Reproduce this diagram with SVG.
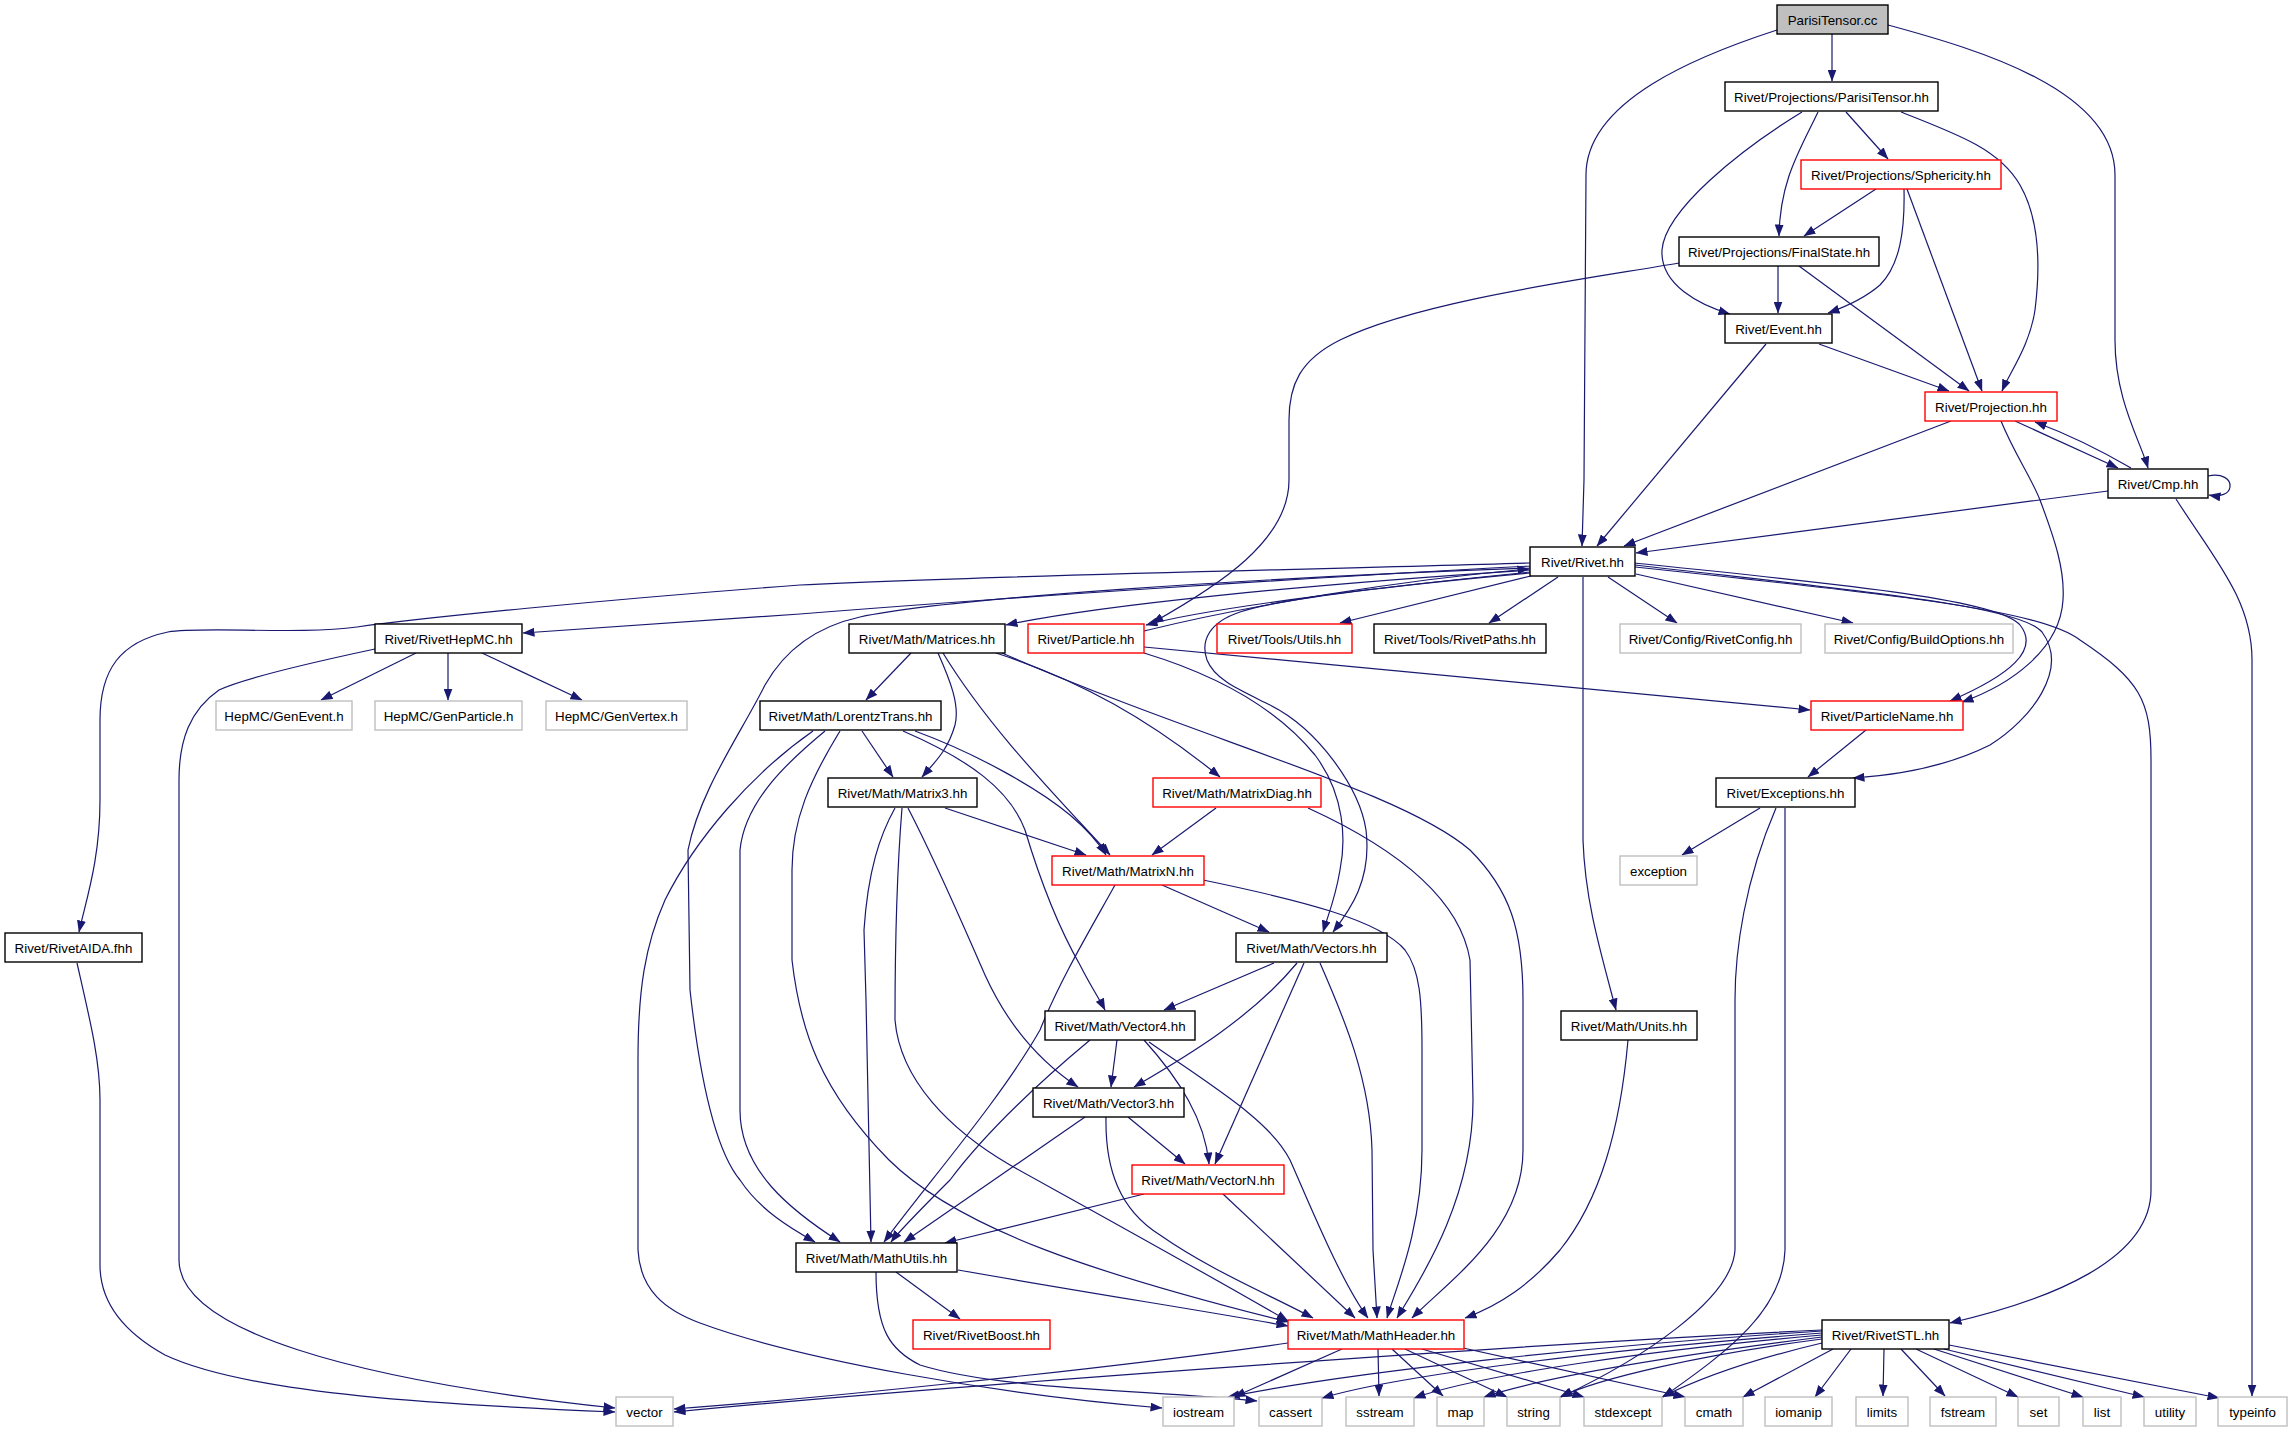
<svg xmlns="http://www.w3.org/2000/svg" width="2291" height="1432" viewBox="0 0 2291 1432">
<style>
.n rect{fill:#fff;stroke:#000;stroke-width:1.4}
.n.r rect{stroke:#ff0000}
.n.g rect{stroke:#bfbfbf}
.n.s rect{fill:#bfbfbf}
.n text{font-family:"Liberation Sans",Arial,Helvetica,sans-serif;font-size:13.33px;text-anchor:middle;fill:#000}
#edges path{fill:none;stroke:#191970;stroke-width:1.2;marker-end:url(#a)}
</style>
<defs>
<marker id="a" markerUnits="userSpaceOnUse" markerWidth="12" markerHeight="9" viewBox="0 0 12 9" refX="11.5" refY="4.5" orient="auto">
<path d="M0,0 L12,4.5 L0,9 z" fill="#191970"/>
</marker>
</defs>
<rect width="2291" height="1432" fill="#fff"/>
<g id="edges">
<path d="M1777,30 C1700,55 1586,100 1586,175 L1584,480 L1582,546"/>
<path d="M1832,34 L1832,81"/>
<path d="M1888,25 C1980,50 2115,90 2115,175 L2115,340 C2115,400 2140,440 2148,468"/>
<path d="M1802,112 C1740,150 1665,210 1662,250 C1660,285 1700,305 1730,314"/>
<path d="M1818,112 C1800,150 1780,180 1779,236"/>
<path d="M1846,112 L1888,159"/>
<path d="M1901,112 C1960,135 2000,150 2020,185 C2040,220 2040,270 2035,310 C2030,345 2010,372 2002,391"/>
<path d="M1876,189 L1804,236"/>
<path d="M1904,189 C1905,230 1900,265 1880,285 C1865,298 1845,307 1828,313"/>
<path d="M1907,189 L1982,391"/>
<path d="M1778,266 L1778,313"/>
<path d="M1799,266 L1969,391"/>
<path d="M1679,263 C1600,277 1420,300 1340,340 C1300,360 1289,385 1289,420 L1289,480 C1289,540 1220,585 1152,623"/>
<path d="M1819,344 L1949,391"/>
<path d="M1766,344 L1597,546"/>
<path d="M1951,421 L1624,546"/>
<path d="M2015,421 L2118,468"/>
<path d="M2131,468 C2100,450 2070,435 2035,422"/>
<path d="M2001,421 C2015,455 2030,475 2040,500 C2055,540 2065,570 2063,600 C2060,650 2010,685 1962,702"/>
<path d="M2108,491 L1636,553"/>
<path d="M2208,476 C2222,473 2231,479 2230,487 C2229,494 2221,497 2209,495"/>
<path d="M2176,499 C2215,560 2252,600 2252,660 L2252,1396"/>
<path d="M1531,563 C1300,570 1000,575 800,585 C600,600 420,618 357,627 C300,635 200,626 168,632 C120,642 100,670 100,720 L100,800 C100,860 86,900 79,932"/>
<path d="M1531,566 C1300,578 1000,598 800,614 L523,633"/>
<path d="M1531,568 C1250,578 950,598 860,617 C810,628 782,655 765,685 C740,735 700,790 688,850 L690,990 C700,1080 715,1150 740,1180 C760,1210 790,1228 815,1242"/>
<path d="M1531,570 C1300,585 1100,605 1006,625"/>
<path d="M1531,572 C1350,590 1200,610 1146,625"/>
<path d="M1144,631 C1250,605 1400,580 1529,569"/>
<path d="M1531,573 C1400,585 1280,598 1240,612 C1210,622 1200,640 1207,660 C1215,680 1240,690 1270,705 C1320,730 1360,790 1366,830 C1372,880 1350,910 1333,932"/>
<path d="M1531,576 L1340,623"/>
<path d="M1558,577 L1489,623"/>
<path d="M1583,577 L1583,840 C1585,900 1600,950 1616,1010"/>
<path d="M1608,577 L1677,623"/>
<path d="M1636,574 L1853,623"/>
<path d="M1635,563 C1850,585 2000,600 2020,625 C2040,650 2010,675 1950,701"/>
<path d="M1635,565 C1850,590 2020,605 2042,632 C2070,670 2030,720 1990,745 C1950,765 1900,775 1853,778"/>
<path d="M1635,567 C1900,595 2040,610 2080,640 C2140,680 2151,700 2151,760 L2151,1190 C2151,1260 2050,1300 1950,1323"/>
<path d="M1144,653 C1200,670 1270,700 1315,755 C1345,795 1346,840 1340,870 C1335,900 1328,915 1323,932"/>
<path d="M1144,647 L1810,710"/>
<path d="M416,653 L321,700"/>
<path d="M448,653 L448,700"/>
<path d="M482,653 L582,700"/>
<path d="M375,649 C300,665 240,680 219,690 C190,710 179,740 179,780 L179,1260 C179,1330 350,1380 615,1408"/>
<path d="M77,963 C90,1020 100,1060 100,1100 L100,1265 C100,1300 120,1330 165,1355 C250,1395 450,1405 615,1412"/>
<path d="M911,653 L866,700"/>
<path d="M938,653 C950,680 960,705 955,725 C948,750 935,762 922,777"/>
<path d="M943,653 C990,730 1060,800 1110,855"/>
<path d="M996,653 C1080,680 1150,720 1220,777"/>
<path d="M1002,653 C1200,740 1400,790 1470,850 C1510,890 1523,930 1523,1000 L1523,1150 C1523,1230 1450,1280 1412,1318"/>
<path d="M862,731 L893,777"/>
<path d="M915,731 C980,755 1040,790 1070,815 C1090,832 1100,845 1106,855"/>
<path d="M903,731 C970,760 1010,790 1025,830 C1040,880 1060,930 1080,965 C1090,985 1100,1000 1105,1010"/>
<path d="M825,731 C790,760 745,800 740,850 L740,1110 C740,1170 790,1210 840,1242"/>
<path d="M840,731 C810,780 792,820 792,870 L792,960 C800,1030 820,1090 889,1160 C960,1230 1100,1275 1288,1322"/>
<path d="M813,731 C750,775 695,840 665,900 C645,945 638,990 638,1060 L638,1250 C640,1290 665,1310 700,1323 C800,1360 1000,1395 1162,1408"/>
<path d="M945,808 L1086,855"/>
<path d="M895,808 C880,835 868,870 864,930 L866,1000 C868,1100 870,1180 871,1242"/>
<path d="M902,808 C897,870 895,930 895,1020 C900,1080 950,1130 1010,1165 C1100,1215 1200,1270 1288,1321"/>
<path d="M908,808 C940,870 965,930 985,975 C1010,1030 1045,1065 1078,1087"/>
<path d="M1216,808 L1152,855"/>
<path d="M1308,808 C1400,850 1460,900 1470,960 L1473,1100 C1473,1200 1420,1280 1397,1318"/>
<path d="M1162,885 L1269,932"/>
<path d="M1115,885 C1090,930 1060,980 1040,1030 C1000,1100 930,1180 884,1242"/>
<path d="M1203,880 C1300,900 1380,920 1405,950 C1420,970 1422,1000 1422,1050 L1422,1150 C1422,1230 1395,1290 1387,1318"/>
<path d="M1274,963 L1164,1010"/>
<path d="M1297,963 C1250,1020 1180,1060 1134,1087"/>
<path d="M1304,963 L1215,1164"/>
<path d="M1320,963 C1345,1020 1370,1080 1372,1150 L1373,1250 L1377,1318"/>
<path d="M1090,1040 C1030,1090 980,1140 950,1180 C920,1210 900,1230 891,1242"/>
<path d="M1117,1040 L1111,1087"/>
<path d="M1144,1040 C1180,1080 1205,1120 1209,1164"/>
<path d="M1149,1042 C1210,1085 1270,1120 1290,1160 C1308,1200 1340,1280 1368,1318"/>
<path d="M1085,1117 L904,1242"/>
<path d="M1128,1117 L1185,1164"/>
<path d="M1106,1117 C1105,1170 1120,1210 1160,1235 C1210,1270 1270,1295 1313,1318"/>
<path d="M1144,1194 L945,1243"/>
<path d="M1223,1194 L1355,1318"/>
<path d="M896,1272 L960,1319"/>
<path d="M958,1270 C1100,1295 1200,1310 1288,1326"/>
<path d="M876,1272 C876,1330 890,1350 920,1365 C1000,1390 1150,1390 1257,1401"/>
<path d="M1628,1040 C1620,1130 1600,1200 1560,1250 C1530,1285 1500,1305 1465,1318"/>
<path d="M1760,808 L1682,855"/>
<path d="M1776,808 C1745,880 1735,950 1735,1000 L1735,1250 C1732,1300 1640,1360 1561,1397"/>
<path d="M1785,808 L1785,1250 C1783,1310 1730,1350 1663,1397"/>
<path d="M1866,730 L1808,777"/>
<path d="M1288,1343 C1100,1370 800,1400 674,1409"/>
<path d="M1342,1349 L1234,1397"/>
<path d="M1378,1349 L1379,1396"/>
<path d="M1392,1349 L1443,1396"/>
<path d="M1405,1349 L1507,1397"/>
<path d="M1422,1349 L1584,1397"/>
<path d="M1463,1348 L1685,1397"/>
<path d="M1822,1330 C1500,1345 900,1390 674,1412"/>
<path d="M1822,1331 C1600,1345 1350,1372 1228,1397"/>
<path d="M1822,1333 C1600,1350 1400,1375 1322,1398"/>
<path d="M1822,1335 C1650,1350 1480,1375 1414,1398"/>
<path d="M1822,1337 C1680,1355 1550,1375 1484,1397"/>
<path d="M1822,1339 C1700,1355 1600,1378 1560,1397"/>
<path d="M1822,1343 C1750,1360 1700,1378 1662,1397"/>
<path d="M1833,1349 L1743,1397"/>
<path d="M1851,1349 L1815,1397"/>
<path d="M1884,1349 L1883,1396"/>
<path d="M1901,1349 L1945,1396"/>
<path d="M1916,1349 L2018,1397"/>
<path d="M1934,1349 L2083,1397"/>
<path d="M1944,1349 L2144,1397"/>
<path d="M1949,1345 L2219,1398"/>
</g>
<g id="n1" class="n s"><rect x="1777" y="5" width="111" height="29"/><text x="1832.5" y="24.5">ParisiTensor.cc</text></g>
<g id="n2" class="n"><rect x="1725" y="82" width="213" height="29"/><text x="1831.5" y="101.5">Rivet/Projections/ParisiTensor.hh</text></g>
<g id="n3" class="n r"><rect x="1801" y="160" width="200" height="29"/><text x="1901" y="179.5">Rivet/Projections/Sphericity.hh</text></g>
<g id="n4" class="n"><rect x="1679" y="237" width="200" height="29"/><text x="1779" y="256.5">Rivet/Projections/FinalState.hh</text></g>
<g id="n5" class="n"><rect x="1725" y="314" width="107" height="29"/><text x="1778.5" y="333.5">Rivet/Event.hh</text></g>
<g id="n6" class="n r"><rect x="1925" y="392" width="132" height="29"/><text x="1991" y="411.5">Rivet/Projection.hh</text></g>
<g id="n7" class="n"><rect x="2108" y="469" width="100" height="29"/><text x="2158" y="488.5">Rivet/Cmp.hh</text></g>
<g id="n8" class="n"><rect x="1530" y="547" width="105" height="29"/><text x="1582.5" y="566.5">Rivet/Rivet.hh</text></g>
<g id="n9" class="n"><rect x="375" y="624" width="147" height="29"/><text x="448.5" y="643.5">Rivet/RivetHepMC.hh</text></g>
<g id="n10" class="n"><rect x="849" y="624" width="156" height="29"/><text x="927" y="643.5">Rivet/Math/Matrices.hh</text></g>
<g id="n11" class="n r"><rect x="1028" y="624" width="116" height="29"/><text x="1086" y="643.5">Rivet/Particle.hh</text></g>
<g id="n12" class="n r"><rect x="1217" y="624" width="135" height="29"/><text x="1284.5" y="643.5">Rivet/Tools/Utils.hh</text></g>
<g id="n13" class="n"><rect x="1374" y="624" width="172" height="29"/><text x="1460" y="643.5">Rivet/Tools/RivetPaths.hh</text></g>
<g id="n14" class="n g"><rect x="1620" y="624" width="181" height="29"/><text x="1710.5" y="643.5">Rivet/Config/RivetConfig.hh</text></g>
<g id="n15" class="n g"><rect x="1825" y="624" width="188" height="29"/><text x="1919" y="643.5">Rivet/Config/BuildOptions.hh</text></g>
<g id="n16" class="n g"><rect x="216" y="701" width="136" height="29"/><text x="284" y="720.5">HepMC/GenEvent.h</text></g>
<g id="n17" class="n g"><rect x="375" y="701" width="147" height="29"/><text x="448.5" y="720.5">HepMC/GenParticle.h</text></g>
<g id="n18" class="n g"><rect x="546" y="701" width="141" height="29"/><text x="616.5" y="720.5">HepMC/GenVertex.h</text></g>
<g id="n19" class="n"><rect x="760" y="701" width="181" height="29"/><text x="850.5" y="720.5">Rivet/Math/LorentzTrans.hh</text></g>
<g id="n20" class="n r"><rect x="1811" y="701" width="152" height="29"/><text x="1887" y="720.5">Rivet/ParticleName.hh</text></g>
<g id="n21" class="n"><rect x="828" y="778" width="149" height="29"/><text x="902.5" y="797.5">Rivet/Math/Matrix3.hh</text></g>
<g id="n22" class="n r"><rect x="1153" y="778" width="168" height="29"/><text x="1237" y="797.5">Rivet/Math/MatrixDiag.hh</text></g>
<g id="n23" class="n"><rect x="1716" y="778" width="139" height="29"/><text x="1785.5" y="797.5">Rivet/Exceptions.hh</text></g>
<g id="n24" class="n r"><rect x="1052" y="856" width="152" height="29"/><text x="1128" y="875.5">Rivet/Math/MatrixN.hh</text></g>
<g id="n25" class="n g"><rect x="1620" y="856" width="77" height="29"/><text x="1658.5" y="875.5">exception</text></g>
<g id="n26" class="n"><rect x="5" y="933" width="137" height="29"/><text x="73.5" y="952.5">Rivet/RivetAIDA.fhh</text></g>
<g id="n27" class="n"><rect x="1236" y="933" width="151" height="29"/><text x="1311.5" y="952.5">Rivet/Math/Vectors.hh</text></g>
<g id="n28" class="n"><rect x="1045" y="1011" width="150" height="29"/><text x="1120" y="1030.5">Rivet/Math/Vector4.hh</text></g>
<g id="n29" class="n"><rect x="1561" y="1011" width="136" height="29"/><text x="1629" y="1030.5">Rivet/Math/Units.hh</text></g>
<g id="n30" class="n"><rect x="1033" y="1088" width="151" height="29"/><text x="1108.5" y="1107.5">Rivet/Math/Vector3.hh</text></g>
<g id="n31" class="n r"><rect x="1132" y="1165" width="152" height="29"/><text x="1208" y="1184.5">Rivet/Math/VectorN.hh</text></g>
<g id="n32" class="n"><rect x="796" y="1243" width="161" height="29"/><text x="876.5" y="1262.5">Rivet/Math/MathUtils.hh</text></g>
<g id="n33" class="n r"><rect x="913" y="1320" width="137" height="29"/><text x="981.5" y="1339.5">Rivet/RivetBoost.hh</text></g>
<g id="n34" class="n r"><rect x="1288" y="1320" width="176" height="29"/><text x="1376" y="1339.5">Rivet/Math/MathHeader.hh</text></g>
<g id="n35" class="n"><rect x="1822" y="1320" width="127" height="29"/><text x="1885.5" y="1339.5">Rivet/RivetSTL.hh</text></g>
<g id="n36" class="n g"><rect x="616" y="1397" width="57" height="29"/><text x="644.5" y="1416.5">vector</text></g>
<g id="n37" class="n g"><rect x="1163" y="1397" width="71" height="29"/><text x="1198.5" y="1416.5">iostream</text></g>
<g id="n38" class="n g"><rect x="1259" y="1397" width="63" height="29"/><text x="1290.5" y="1416.5">cassert</text></g>
<g id="n39" class="n g"><rect x="1346" y="1397" width="68" height="29"/><text x="1380" y="1416.5">sstream</text></g>
<g id="n40" class="n g"><rect x="1437" y="1397" width="47" height="29"/><text x="1460.5" y="1416.5">map</text></g>
<g id="n41" class="n g"><rect x="1507" y="1397" width="53" height="29"/><text x="1533.5" y="1416.5">string</text></g>
<g id="n42" class="n g"><rect x="1584" y="1397" width="78" height="29"/><text x="1623" y="1416.5">stdexcept</text></g>
<g id="n43" class="n g"><rect x="1685" y="1397" width="58" height="29"/><text x="1714" y="1416.5">cmath</text></g>
<g id="n44" class="n g"><rect x="1765" y="1397" width="67" height="29"/><text x="1798.5" y="1416.5">iomanip</text></g>
<g id="n45" class="n g"><rect x="1856" y="1397" width="52" height="29"/><text x="1882" y="1416.5">limits</text></g>
<g id="n46" class="n g"><rect x="1930" y="1397" width="66" height="29"/><text x="1963" y="1416.5">fstream</text></g>
<g id="n47" class="n g"><rect x="2018" y="1397" width="41" height="29"/><text x="2038.5" y="1416.5">set</text></g>
<g id="n48" class="n g"><rect x="2083" y="1397" width="38" height="29"/><text x="2102" y="1416.5">list</text></g>
<g id="n49" class="n g"><rect x="2144" y="1397" width="52" height="29"/><text x="2170" y="1416.5">utility</text></g>
<g id="n50" class="n g"><rect x="2218" y="1397" width="69" height="29"/><text x="2252.5" y="1416.5">typeinfo</text></g>
</svg>
